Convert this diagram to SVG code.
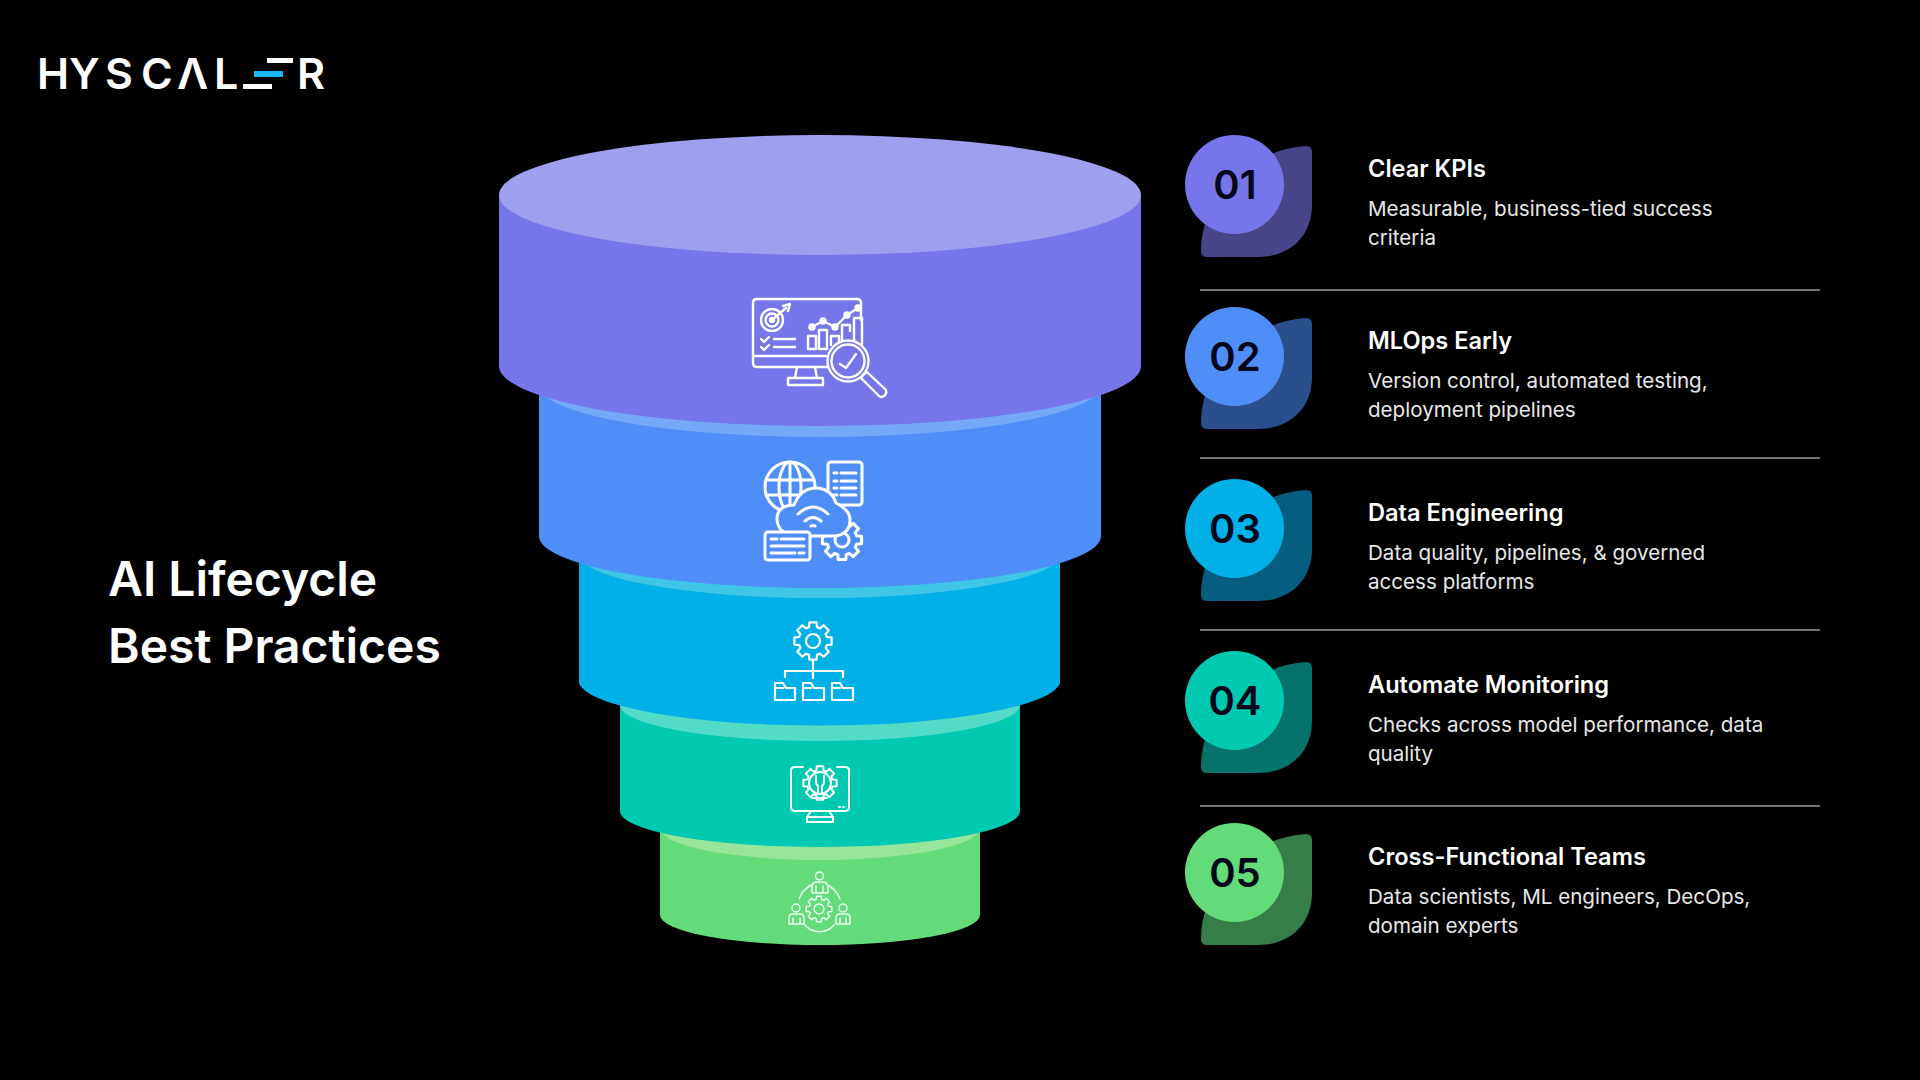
<svg xmlns="http://www.w3.org/2000/svg" width="1920" height="1080" viewBox="0 0 1920 1080">
<style>
text{font-family:"Inter","Liberation Sans",sans-serif}
.title{font-size:48px;font-weight:600;fill:#fff}
.h{font-size:23.6px;font-weight:600;fill:#fff}
.d{font-size:20.6px;font-weight:400;fill:#e8e8e8}
.n{font-size:40px;font-weight:600;fill:#06061a;text-anchor:middle}
.logo{font-size:43px;font-weight:600;fill:#fff}
.ic{fill:none;stroke:#fff;stroke-width:2.4;stroke-linecap:round;stroke-linejoin:round}
.div{stroke:#9a9a9a;stroke-width:1.5}
#gear{vector-effect:non-scaling-stroke}
</style>
<defs>
<path id="leaf" d="M1306 146Q1312 146 1312 152L1312 205C1312 236 1290 257 1258 257L1207 257Q1201 257 1201 251C1201 195 1250 150 1306 146Z"/>
<path id="gear" d="M.98 .19L.73 .21L.665 .369L.829 .559L.559 .829L.369 .665L.21 .73L.19 .98L-.19 .98L-.21 .73L-.369 .665L-.559 .829L-.829 .559L-.665 .369L-.73 .21L-.98 .19L-.98 -.19L-.73 -.21L-.665 -.369L-.829 -.559L-.559 -.829L-.369 -.665L-.21 -.73L-.19 -.98L.19 -.98L.21 -.73L.369 -.665L.559 -.829L.829 -.559L.665 -.369L.73 -.21L.98 -.19Z"/>
</defs>
<rect width="1920" height="1080" fill="#000"/>
<g id="logo">
<text class="logo" y="89"><tspan x="37">H</tspan><tspan x="69">Y</tspan><tspan x="105">S</tspan><tspan x="141">C</tspan><tspan x="177">Λ</tspan><tspan x="214">L</tspan><tspan x="297">R</tspan></text>
<rect x="267" y="58" width="26" height="5" fill="#fff"/>
<rect x="254" y="71" width="29" height="6" fill="#1fb6f5"/>
<rect x="243" y="84" width="29" height="5" fill="#fff"/>
</g>
<g id="title"><text class="title" x="108" y="596">AI Lifecycle</text><text class="title" x="108" y="663">Best Practices</text></g>
<g id="tier5">
<path d="M660 828V915A160 30 0 0 0 980 915V828Z" fill="#62db78"/>
<ellipse cx="820" cy="828" rx="160" ry="32" fill="#97e49b"/>
</g>
<g id="tier4">
<path d="M620 705V811A200 36 0 0 0 1020 811V705Z" fill="#00c9b1"/>
<ellipse cx="820" cy="705" rx="200" ry="36" fill="#52dcc8"/>
</g>
<g id="tier3">
<path d="M579 554V683A241 45.500 0 0 0 1060 683V554Z" fill="#00b0e6"/>
<ellipse cx="820" cy="554" rx="241" ry="44" fill="#3fc6e6"/>
</g>
<g id="tier2">
<path d="M539 385V536A281 52 0 0 0 1101 536V385Z" fill="#4f8ef7"/>
<ellipse cx="820" cy="385" rx="281" ry="52" fill="#74a9f8"/>
</g>
<g id="tier1">
<path d="M499 195V366A321 60 0 0 0 1141 366V195Z" fill="#7676ea"/>
<ellipse cx="820" cy="195" rx="321" ry="60" fill="#9f9ff0"/>
</g>
<g id="icon1" class="ic">
<path d="M861 320V303Q861 299 857 299H757Q753 299 753 303V363Q753 367 757 367H828"/>
<path d="M753 356H826"/>
<path d="M797 367L795 378M815 367L817 378M788 378H823V385H788Z"/>
<circle cx="772" cy="320" r="11"/><circle cx="772" cy="320" r="6.5"/><circle cx="772" cy="320" r="2"/>
<path d="M772 320L786 308M783 306L790 304L788 311"/>
<path d="M761 339L764 342L769 337M761 347L764 350L769 345M774 339H795M774 347H795"/>
<path d="M808 349V336H816V349ZM819 349V330H827V349ZM831 345V336H839V341M842 340V325H850V331M854 345V318H862V344"/>
<path d="M812 327L823 321L835 327L847 315L858 308"/>
<circle cx="812" cy="327" r="2.500"/><circle cx="823" cy="321" r="2.500"/><circle cx="835" cy="327" r="2.500"/><circle cx="847" cy="315" r="2.500"/><circle cx="858" cy="308" r="2.500"/>
<circle cx="848" cy="361" r="20.500" fill="#7676ea"/><circle cx="848" cy="361" r="16.500"/>
<path d="M840 364L846 368L856 354"/>
<path d="M863 375L867 372L886 390Q887 394 884 396Q881 398 879 396L861 378Z"/>
</g>
<g id="icon2" class="ic" style="stroke-width:3">
<circle cx="790" cy="487" r="25"/><ellipse cx="790" cy="487" rx="11" ry="25"/><path d="M790 462V512M766 480H814M766 495H800"/>
<rect x="828" y="462" width="34" height="43" rx="3" fill="#4f8ef7"/>
<path d="M834 473H837M841 473H856M834 481H837M841 481H856M834 488H837M841 488H856M834 495H837M841 495H856"/>
<use href="#gear" transform="translate(842 540) scale(20)"/>
<circle cx="842" cy="540" r="7"/>
<path d="M781 530Q777 525 777 518Q778 505 794 505Q801 487 818 488Q832 490 836 503Q850 510 850 520Q850 534 835 536H790Z" fill="#4f8ef7"/>
<path d="M798 514Q813 500 828 514M805 521Q813 514 821 521M811 526Q813 525 815 526"/>
<rect x="765" y="532" width="45" height="28" rx="3" fill="#4f8ef7"/>
<path d="M771 539H777M781 539H804M771 546H804M771 553H795M799 553H804"/>
</g>
<g id="icon3" class="ic" style="stroke-width:2.2">
<use href="#gear" transform="translate(813 641) scale(19)"/>
<circle cx="813" cy="641" r="7"/>
<path d="M813 660V678M785 677V671H843V677"/>
<path d="M775 700V683H783L786 688H795V700ZM775 688H783"/>
<path d="M803 700V683H811L814 688H824V700ZM803 688H811"/>
<path d="M832 700V683H840L843 688H853V700ZM832 688H840"/>
</g>
<g id="icon4" class="ic" style="stroke-width:2">
<path d="M803 767H795Q791 767 791 771V807Q791 811 795 811H845Q849 811 849 807V771Q849 767 845 767H837"/>
<use href="#gear" transform="translate(820 783) scale(17)"/>
<circle cx="820" cy="783" r="11"/>
<path d="M816 776V781Q816 785 818 786V794M824 776V781Q824 785 822 786V794"/>
<path d="M812 798H827M839 807H840M843 807H844M811 811L807 817H833L829 811M807 817V822H833V817"/>
</g>
<g id="icon5" class="ic" style="stroke-width:1.5;opacity:.9">
<use href="#gear" transform="translate(819 909) scale(13)"/>
<circle cx="819" cy="909" r="5"/>
<circle cx="819.500" cy="876" r="4"/>
<path d="M812 893V887Q812 882 817 882H822Q828 882 828 887V893ZM816 893V886M823 893V886"/>
<circle cx="796" cy="908" r="4"/>
<path d="M789 924V918Q789 914 793 914H800Q804 914 804 918V924ZM793 924V918M800 924V918"/>
<circle cx="843" cy="908" r="4"/>
<path d="M836 924V918Q836 914 840 914H846Q850 914 850 918V924ZM840 924V918M846 924V918"/>
<path d="M799 899A28 28 0 0 1 813 884M826 884A28 28 0 0 1 840 899M805 925A19 19 0 0 0 834 925"/>
</g>
<g id="row1"><use href="#leaf" fill="#474487"/><circle cx="1234.500" cy="184.500" r="49.500" fill="#7676ea"/><text class="n" x="1235" y="199">01</text><text class="h" x="1368" y="177">Clear KPIs</text><text class="d" x="1368" y="216">Measurable, business-tied success</text><text class="d" x="1368" y="245">criteria</text></g>
<g id="row2"><use href="#leaf" y="172" fill="#2b4f8c"/><circle cx="1234.500" cy="356.500" r="49.500" fill="#4f8ef7"/><text class="n" x="1235" y="371">02</text><text class="h" x="1368" y="349">MLOps Early</text><text class="d" x="1368" y="388">Version control, automated testing,</text><text class="d" x="1368" y="417">deployment pipelines</text></g>
<g id="row3"><use href="#leaf" y="344" fill="#055e80"/><circle cx="1234.500" cy="528.500" r="49.500" fill="#00b0e6"/><text class="n" x="1235" y="543">03</text><text class="h" x="1368" y="521">Data Engineering</text><text class="d" x="1368" y="560">Data quality, pipelines, &amp; governed</text><text class="d" x="1368" y="589">access platforms</text></g>
<g id="row4"><use href="#leaf" y="516" fill="#05736a"/><circle cx="1234.500" cy="700.500" r="49.500" fill="#00c9b1"/><text class="n" x="1235" y="715">04</text><text class="h" x="1368" y="693">Automate Monitoring</text><text class="d" x="1368" y="732">Checks across model performance, data</text><text class="d" x="1368" y="761">quality</text></g>
<g id="row5"><use href="#leaf" y="688" fill="#357e4a"/><circle cx="1234.500" cy="872.500" r="49.500" fill="#62db78"/><text class="n" x="1235" y="887">05</text><text class="h" x="1368" y="865">Cross-Functional Teams</text><text class="d" x="1368" y="904">Data scientists, ML engineers, DecOps,</text><text class="d" x="1368" y="933">domain experts</text></g>
<g id="connectors">
<line class="div" x1="1200" y1="290" x2="1820" y2="290"/>
<line class="div" x1="1200" y1="458" x2="1820" y2="458"/>
<line class="div" x1="1200" y1="630" x2="1820" y2="630"/>
<line class="div" x1="1200" y1="806" x2="1820" y2="806"/>
</g>
</svg>
